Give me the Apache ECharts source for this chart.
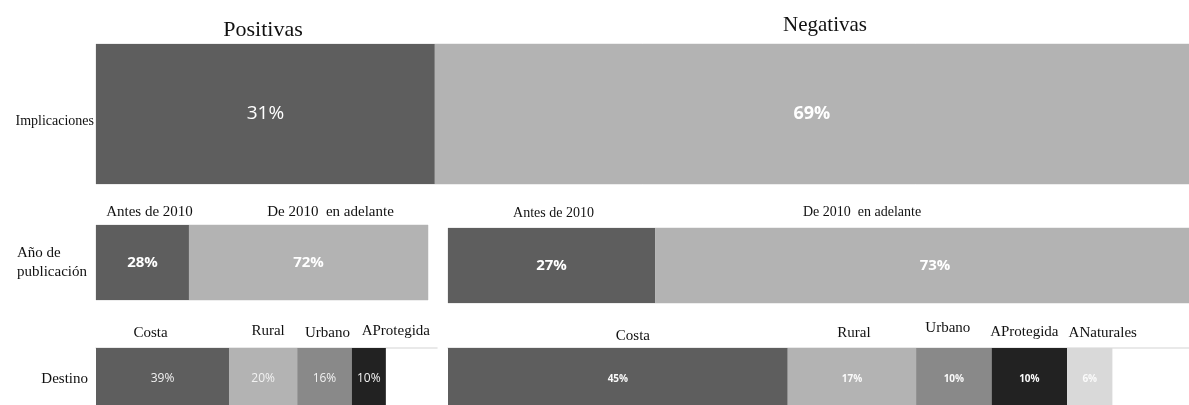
<!DOCTYPE html>
<html>
<head>
<meta charset="utf-8">
<script src="https://cdn.jsdelivr.net/npm/echarts@6/dist/echarts.min.js"></script>
<style>
html,body{margin:0;padding:0;background:#fff;}
#c{width:1189px;height:405px;}
</style>
</head>
<body>
<div id="c"></div>
<script>
// ---- data ----
const panelTitles = ['Positivas', 'Negativas'];
const rowLabels = ['Implicaciones', 'Año de\npublicación', 'Destino'];
const implValues = [31, 69];
const yearNames = ['Antes de 2010', 'De 2010  en adelante'];
const yearPos = [28, 72];
const yearNeg = [27, 73];
const destPosNames = ['Costa', 'Rural', 'Urbano', 'AProtegida'];
const destPos = [39, 20, 16, 10];
const destNegNames = ['Costa', 'Rural', 'Urbano', 'AProtegida', 'ANaturales'];
const destNeg = [45, 17, 10, 10, 6];

// ---- styles ----
const SERIF = '"Liberation Serif", "Times New Roman", serif';
const SANS = '"Open Sans", "Liberation Sans", sans-serif';
const DARK = '#5e5e5e', LIGHT = '#b3b3b3', MID = '#898989', BLACK = '#222222', PALE = '#d9d9d9';
const destColors = [DARK, LIGHT, MID, BLACK, PALE];

const grids = [
  {left: 96, top: 44, width: 1093, height: 140, show: true, borderColor: '#dcdcdc', borderWidth: 1},
  {left: 96, top: 225, width: 332, height: 75, show: true, borderColor: '#dcdcdc', borderWidth: 1},
  {left: 448, top: 228, width: 767, height: 75, show: true, borderColor: '#dcdcdc', borderWidth: 1},
  {left: 96, top: 348, width: 341, height: 62},
  {left: 448, top: 348, width: 755, height: 62}
].map(g => Object.assign({outerBoundsMode: 'none', containLabel: false}, g));

const xAxes = grids.map((g, i) => ({
  type: 'value', gridIndex: i, min: 0, max: 100, position: 'top',
  axisLine: {show: i >= 3, lineStyle: {color: '#e2e2e2', width: 1.5}},
  axisTick: {show: false}, axisLabel: {show: false}, splitLine: {show: false}
}));

const yAxes = [
  {type: 'category', gridIndex: 0, data: [rowLabels[0]],
   axisLabel: {margin: 2, fontFamily: SERIF, fontSize: 14, color: '#111', verticalAlign: 'top'}},
  {type: 'category', gridIndex: 1, data: [rowLabels[1]],
   axisLabel: {margin: 79, align: 'left', fontFamily: SERIF, fontSize: 15, lineHeight: 19, color: '#111'}},
  {type: 'category', gridIndex: 2, data: ['a'], axisLabel: {show: false}},
  {type: 'category', gridIndex: 3, data: [rowLabels[2]],
   axisLabel: {margin: 8, fontFamily: SERIF, fontSize: 15, color: '#111'}},
  {type: 'category', gridIndex: 4, data: ['b'], axisLabel: {show: false}}
].map(a => Object.assign({axisLine: {show: false}, axisTick: {show: false}, splitLine: {show: false}}, a));

const series = [];
function addSegments(gi, values, colors, labelFn) {
  values.forEach((v, k) => {
    series.push({
      type: 'bar', xAxisIndex: gi, yAxisIndex: gi, stack: 's' + gi,
      barWidth: '100%', data: [v], silent: true,
      itemStyle: {color: colors[k]},
      label: Object.assign({show: true, position: 'inside', formatter: '{c}%', color: '#fff', fontFamily: SANS}, labelFn(k))
    });
  });
}
addSegments(0, implValues, [DARK, LIGHT], k => k === 0 ? {fontSize: 19, fontWeight: 'normal'} : {fontSize: 18, fontWeight: 'bold'});
addSegments(1, yearPos, [DARK, LIGHT], k => ({fontSize: 15, fontWeight: 'bold'}));
addSegments(2, yearNeg, [DARK, LIGHT], k => ({fontSize: 15, fontWeight: 'bold'}));
addSegments(3, destPos, destColors, k => ({fontSize: 12, fontWeight: 'normal', color: '#f2f2f2'}));
addSegments(4, destNeg, destColors, k => ({fontSize: 10, fontWeight: 'bold', color: '#fafafa'}));

const chart = echarts.init(document.getElementById('c'), null, {renderer: 'canvas'});
chart.setOption({
  animation: false,
  grid: grids, xAxis: xAxes, yAxis: yAxes, series: series
});

// ---- category name labels above segments (offsets relative to segment centres) ----
const nameLayout = [
  {gi: 1, names: yearNames, values: yearPos, dx: [7, 22], y: [212, 212], size: 15},
  {gi: 2, names: yearNames, values: yearNeg, dx: [2, -73], y: [213, 212], size: 14},
  {gi: 3, names: destPosNames, values: destPos, dx: [-12, 5, 3, 27], y: [333, 331, 333, 331], size: 15},
  {gi: 4, names: destNegNames, values: destNeg, dx: [15, 2, -6, -5, 13], y: [336, 333, 328, 332, 333], size: 15}
];
const graphics = [
  {type: 'text', x: 263, y: 30, style: {text: panelTitles[0], font: '22px ' + SERIF, fill: '#111', textAlign: 'center', textVerticalAlign: 'middle'}},
  {type: 'text', x: 825, y: 25, style: {text: panelTitles[1], font: '21px ' + SERIF, fill: '#111', textAlign: 'center', textVerticalAlign: 'middle'}}
];
nameLayout.forEach(L => {
  let cum = 0;
  L.values.forEach((v, k) => {
    const px = chart.convertToPixel({gridIndex: L.gi}, [cum + v / 2, 0])[0];
    cum += v;
    graphics.push({type: 'text', x: px + L.dx[k], y: L.y[k],
      style: {text: L.names[k], font: L.size + 'px ' + SERIF, fill: '#111', textAlign: 'center', textVerticalAlign: 'middle'}});
  });
});
chart.setOption({graphic: graphics});
</script>
</body>
</html>
